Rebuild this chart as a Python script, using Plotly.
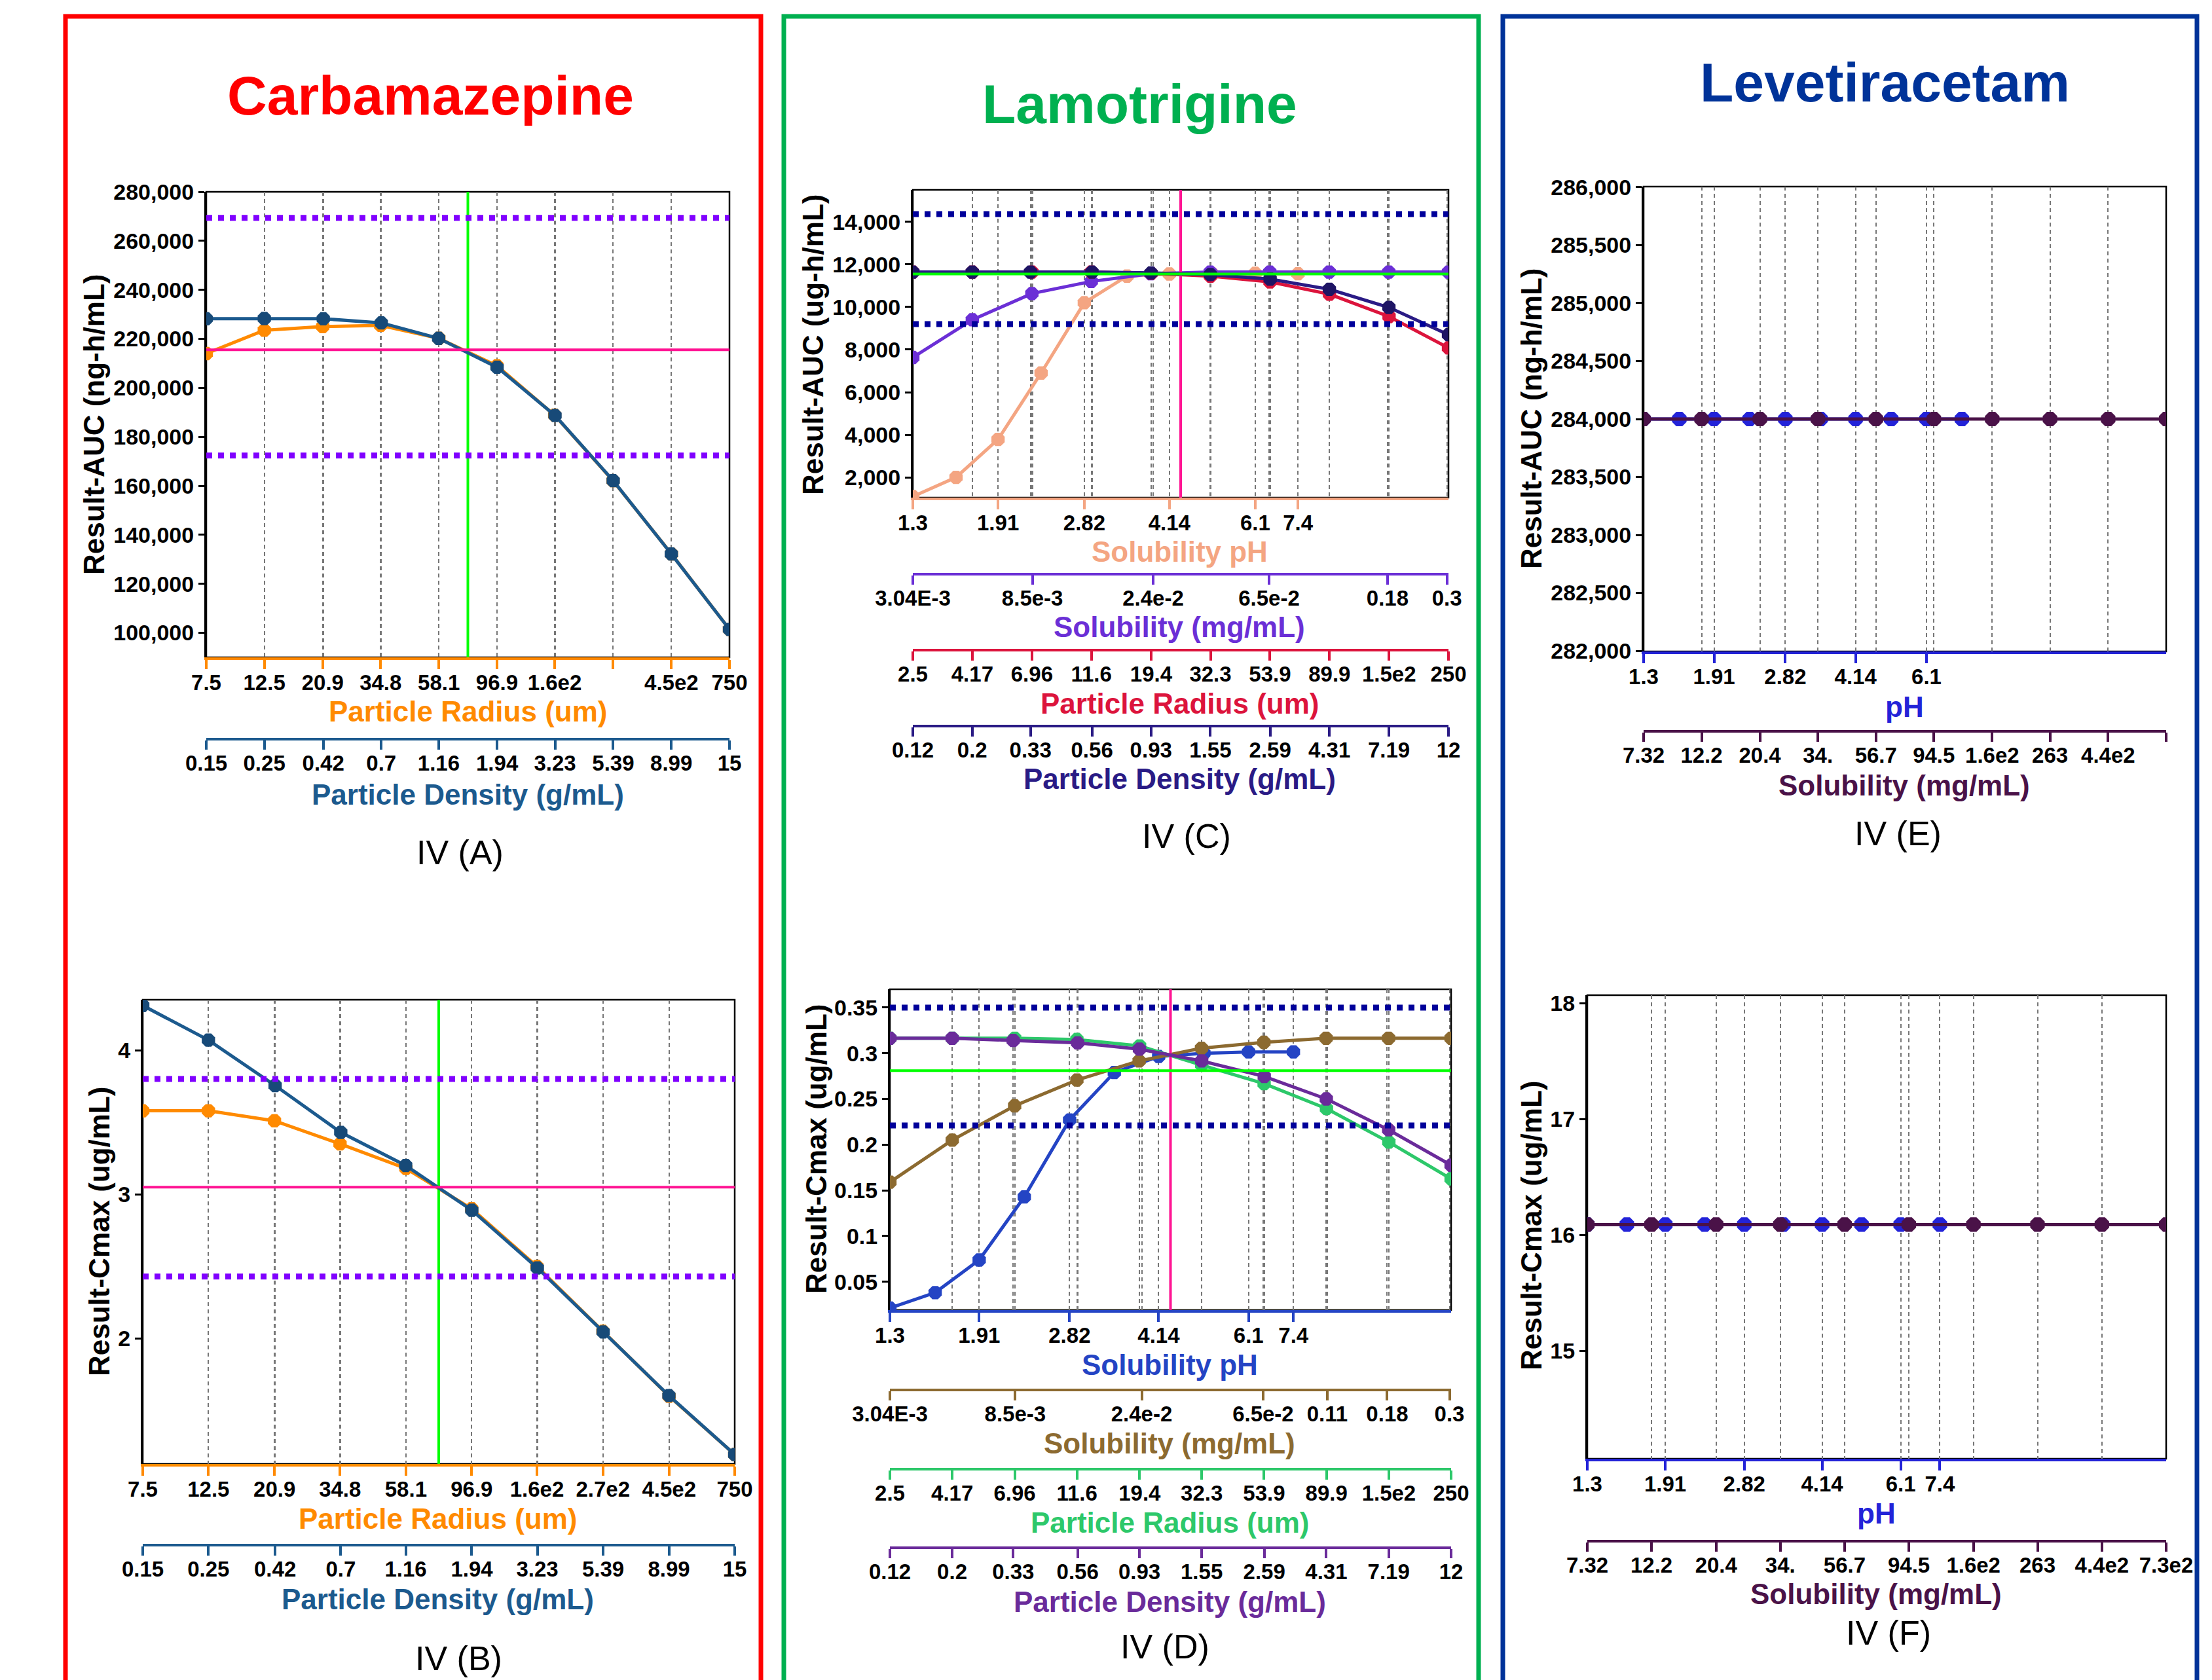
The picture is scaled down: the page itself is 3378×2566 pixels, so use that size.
import math
import plotly.graph_objects as go

W, H = 3378, 2566
FONT = "Liberation Sans, Arial, Helvetica, sans-serif"


def fx(x):
    return x / W


def fy(y):
    return 1 - y / H


# ---------------------------------------------------------------- DATA
# Carbamazepine, IV(A) AUC and IV(B) Cmax
cbz_radius = [7.5, 12.5, 20.9, 34.8, 58.1, 96.9, 161, 269, 450, 750]
cbz_density = [0.15, 0.25, 0.42, 0.7, 1.16, 1.94, 3.23, 5.39, 8.99, 15]
cbz_radius_labels_A = ["7.5", "12.5", "20.9", "34.8", "58.1", "96.9", "1.6e2", "", "4.5e2", "750"]
cbz_radius_labels_B = ["7.5", "12.5", "20.9", "34.8", "58.1", "96.9", "1.6e2", "2.7e2", "4.5e2", "750"]
cbz_density_labels = ["0.15", "0.25", "0.42", "0.7", "1.16", "1.94", "3.23", "5.39", "8.99", "15"]
cbz_base_radius = 75

A_auc_vs_radius = [214000, 223500, 225000, 225500, 220200, 209000, 188800, 162100, 132200, 101400]
A_auc_vs_density = [228200, 228300, 228200, 226500, 220200, 208400, 188700, 162100, 132200, 101400]
A_baseline = 215500
A_limits = [269400, 172400]

B_cmax_vs_radius = [3.58, 3.58, 3.51, 3.35, 3.18, 2.90, 2.50, 2.05, 1.60, 1.195]
B_cmax_vs_density = [4.31, 4.07, 3.755, 3.43, 3.20, 2.89, 2.49, 2.046, 1.604, 1.195]
B_baseline = 3.05
B_limits = [3.80, 2.43]

# Lamotrigine, IV(C) AUC and IV(D) Cmax
ltg_ph = [1.3, 1.58, 1.91, 2.32, 2.82, 3.42, 4.14, 5.03, 6.1, 7.4]
ltg_ph_ticks = [1.3, 1.91, 2.82, 4.14, 6.1, 7.4]
ltg_ph_labels = ["1.3", "1.91", "2.82", "4.14", "6.1", "7.4"]
ltg_sol = [3.04e-3, 5.07e-3, 8.46e-3, 1.41e-2, 2.35e-2, 3.92e-2, 6.54e-2, 0.109, 0.182, 0.304]
ltg_sol_ticks_C = [3.04e-3, 8.5e-3, 2.4e-2, 6.5e-2, 0.18, 0.3]
ltg_sol_labels_C = ["3.04E-3", "8.5e-3", "2.4e-2", "6.5e-2", "0.18", "0.3"]
ltg_sol_ticks_D = [3.04e-3, 8.5e-3, 2.4e-2, 6.5e-2, 0.11, 0.18, 0.3]
ltg_sol_labels_D = ["3.04E-3", "8.5e-3", "2.4e-2", "6.5e-2", "0.11", "0.18", "0.3"]
ltg_radius = [2.5, 4.17, 6.96, 11.6, 19.4, 32.3, 53.9, 89.9, 150, 250]
ltg_radius_labels = ["2.5", "4.17", "6.96", "11.6", "19.4", "32.3", "53.9", "89.9", "1.5e2", "250"]
ltg_density = [0.12, 0.2, 0.33, 0.56, 0.93, 1.55, 2.59, 4.31, 7.19, 12]
ltg_density_labels = ["0.12", "0.2", "0.33", "0.56", "0.93", "1.55", "2.59", "4.31", "7.19", "12"]
ltg_base_radius = 25

C_auc_vs_ph = [1100, 2000, 3780, 6900, 10200, 11450, 11550, 11550, 11580, 11560]
C_auc_vs_sol = [7630, 9400, 10630, 11200, 11560, 11640, 11640, 11640, 11640, 11640]
C_auc_vs_radius = [11640, 11640, 11640, 11640, 11580, 11450, 11180, 10600, 9550, 8080]
C_auc_vs_density = [11640, 11640, 11640, 11640, 11600, 11520, 11310, 10830, 9980, 8700]
C_baseline = 11550
C_limits = [14360, 9200]

D_cmax_vs_ph = [0.0212, 0.0381, 0.0738, 0.1428, 0.227, 0.279, 0.2965, 0.300, 0.3015, 0.3015]
D_cmax_vs_sol = [0.159, 0.205, 0.2425, 0.2707, 0.2916, 0.3055, 0.312, 0.3164, 0.3164, 0.3164]
D_cmax_vs_radius = [0.3164, 0.3164, 0.3164, 0.315, 0.308, 0.287, 0.2667, 0.2395, 0.2028, 0.1626]
D_cmax_vs_density = [0.3164, 0.3164, 0.314, 0.3114, 0.3045, 0.2916, 0.2747, 0.250, 0.2162, 0.1775]
D_baseline = 0.281
D_limits = [0.350, 0.221]
D_yticks = [0.05, 0.1, 0.15, 0.2, 0.25, 0.3, 0.35]
D_ylabels = ["0.05", "0.1", "0.15", "0.2", "0.25", "0.3", "0.35"]

# Levetiracetam, IV(E) AUC and IV(F) Cmax
lev_ph = [1.3, 1.58, 1.91, 2.32, 2.82, 3.42, 4.14, 5.03, 6.1, 7.4]
lev_ph_ticks_E = [1.3, 1.91, 2.82, 4.14, 6.1]
lev_ph_labels_E = ["1.3", "1.91", "2.82", "4.14", "6.1"]
lev_ph_ticks_F = [1.3, 1.91, 2.82, 4.14, 6.1, 7.4]
lev_ph_labels_F = ["1.3", "1.91", "2.82", "4.14", "6.1", "7.4"]
lev_sol = [7.32, 12.2, 20.4, 34.0, 56.7, 94.5, 158, 263, 439, 732]
lev_sol_labels_E = ["7.32", "12.2", "20.4", "34.", "56.7", "94.5", "1.6e2", "263", "4.4e2", ""]
lev_sol_labels_F = ["7.32", "12.2", "20.4", "34.", "56.7", "94.5", "1.6e2", "263", "4.4e2", "7.3e2"]

E_auc_vs_ph = [284000, 284000, 284000, 284000, 284000, 284000, 284000, 284000, 284000, 284000]
E_auc_vs_sol = [284000, 284000, 284000, 284000, 284000, 284000, 284000, 284000, 284000, 284000]
F_cmax_vs_ph = [16.09, 16.09, 16.09, 16.09, 16.09, 16.09, 16.09, 16.09, 16.09, 16.09]
F_cmax_vs_sol = [16.09, 16.09, 16.09, 16.09, 16.09, 16.09, 16.09, 16.09, 16.09, 16.09]

# ---------------------------------------------------------------- STYLE
C_ORANGE = "#FF8A00"
C_SEABLUE = "#1C5A8E"
C_SALMON = "#F4A582"
C_VIOLET = "#6B2FD6"
C_CRIMSON = "#DC143C"
C_NAVY = "#2A1B85"
C_PHBLUE = "#2444C4"
C_BROWN = "#8C6A30"
C_GREEN = "#2DC86A"
C_PURPLE = "#6A2B9A"
C_LEVBLUE = "#2323D8"
C_PLUM = "#4A1248"
C_DOTPURPLE = "#8000FF"
C_DOTNAVY = "#00009A"
C_PINK = "#FF1493"
C_LIME = "#00FF00"

TICKFONT = dict(family=FONT, size=34, color="black", weight="bold")
XTICKFONT = dict(family=FONT, size=33, color="black", weight="bold")

layout = dict(
    template="none",
    width=W, height=H, autosize=False, margin=dict(l=0, r=0, t=0, b=0, pad=0),
    paper_bgcolor="white", plot_bgcolor="rgba(0,0,0,0)",
    showlegend=False, shapes=[], annotations=[],
)
traces = []


def xid(n):
    return "x" if n == 1 else f"x{n}"


def yid(n):
    return "y" if n == 1 else f"y{n}"


def add_panel(yn, box, yrange, yaxis_extra, xaxes):
    """box = (left, top, right, bottom) in px; xaxes list of dicts."""
    l, t, r, b = box
    prim = xaxes[0]["n"]
    ykey = "yaxis" if yn == 1 else f"yaxis{yn}"
    ya = dict(domain=[fy(b), fy(t)], anchor=xid(prim), range=yrange, automargin=False,
              showline=True, linecolor="black", linewidth=3,
              ticks="outside", ticklen=9, tickwidth=3, tickcolor="black",
              tickfont=TICKFONT, showgrid=False, zeroline=False)
    ya.update(yaxis_extra)
    layout[ykey] = ya
    for ax in xaxes:
        n = ax["n"]
        d = dict(type="log", range=[math.log10(ax["lo"]), math.log10(ax["hi"])],
                 domain=[fx(l), fx(r)], automargin=False,
                 showline=True, linecolor=ax["color"], linewidth=4,
                 ticks="outside", ticklen=14, tickwidth=4, tickcolor=ax["color"],
                 tickmode="array", tickvals=ax["tickvals"], ticktext=ax["ticktext"],
                 tickfont=XTICKFONT, ticklabelstandoff=-8,
                 showgrid=True, gridcolor="#777777", gridwidth=2,
                 griddash="6px,5px", zeroline=False)
        if n == prim:
            d["anchor"] = yid(yn)
        else:
            d["anchor"] = "free"
            d["overlaying"] = xid(prim)
            d["position"] = fy(ax["line_y"])
        layout["xaxis" if n == 1 else f"xaxis{n}"] = d
    # plot frame
    layout["shapes"].append(dict(type="rect", xref="paper", yref="paper", layer="below",
                                 x0=fx(l), x1=fx(r), y0=fy(b), y1=fy(t),
                                 line=dict(color="black", width=2.5)))


def series(xn, yn, xs, ys, color, msize=22, mcolor=None):
    traces.append(go.Scatter(x=xs, y=ys, xaxis=xid(xn), yaxis=yid(yn), mode="lines+markers",
                             line=dict(color=color, width=5),
                             marker=dict(color=mcolor or color, size=msize, symbol="octagon")))


def hline(xn, yn, val, color, width, dash="solid"):
    layout["shapes"].append(dict(type="line", xref=f"{xid(xn)} domain", yref=yid(yn), layer="above",
                                 x0=0, x1=1, y0=val, y1=val,
                                 line=dict(color=color, width=width, dash=dash)))


def vline(xn, yn, val, yrange, color, width):
    traces.append(go.Scatter(x=[val, val], y=yrange, xaxis=xid(xn), yaxis=yid(yn), mode="lines",
                             line=dict(color=color, width=width), hoverinfo="skip"))


def text(s, x, y, size, color="black", bold=True, angle=0):
    layout["annotations"].append(dict(text=s, x=fx(x), y=fy(y), xref="paper", yref="paper",
                                      xanchor="center", yanchor="middle", showarrow=False,
                                      textangle=angle,
                                      font=dict(family=FONT, size=size, color=color,
                                                weight="bold" if bold else "normal")))


# ---------------------------------------------------------------- PANEL A
A_yr = [90000, 280000]
add_panel(1, (315, 293, 1114, 1004), A_yr, dict(dtick=20000, tick0=0, tickformat=",d"), [
    dict(n=1, lo=7.5, hi=750, tickvals=cbz_radius, ticktext=cbz_radius_labels_A, color=C_ORANGE),
    dict(n=2, lo=0.15, hi=15, tickvals=cbz_density, ticktext=cbz_density_labels, color=C_SEABLUE, line_y=1129),
])
series(1, 1, cbz_radius, A_auc_vs_radius, C_ORANGE)
series(2, 1, cbz_density, A_auc_vs_density, C_SEABLUE, mcolor="#174A78")
hline(1, 1, A_baseline, C_PINK, 4)
for v in A_limits:
    hline(1, 1, v, C_DOTPURPLE, 9, "dot")

# ---------------------------------------------------------------- PANEL B
B_yr = [1.13, 4.35]
add_panel(2, (218, 1527, 1122, 2236), B_yr, dict(dtick=1, tick0=0), [
    dict(n=3, lo=7.5, hi=750, tickvals=cbz_radius, ticktext=cbz_radius_labels_B, color=C_ORANGE),
    dict(n=4, lo=0.15, hi=15, tickvals=cbz_density, ticktext=cbz_density_labels, color=C_SEABLUE, line_y=2360),
])
series(3, 2, cbz_radius, B_cmax_vs_radius, C_ORANGE)
series(4, 2, cbz_density, B_cmax_vs_density, C_SEABLUE, mcolor="#174A78")
hline(3, 2, B_baseline, C_PINK, 4)
for v in B_limits:
    hline(3, 2, v, C_DOTPURPLE, 9, "dot")

# ---------------------------------------------------------------- PANEL C
C_yr = [1050, 15500]
add_panel(3, (1394, 290, 2212, 760), C_yr, dict(dtick=2000, tick0=0, tickformat=",d"), [
    dict(n=5, lo=1.3, hi=14.6, tickvals=ltg_ph_ticks, ticktext=ltg_ph_labels, color=C_SALMON),
    dict(n=6, lo=3.04e-3, hi=0.304, tickvals=ltg_sol_ticks_C, ticktext=ltg_sol_labels_C, color=C_VIOLET, line_y=877),
    dict(n=7, lo=2.5, hi=250, tickvals=ltg_radius, ticktext=ltg_radius_labels, color=C_CRIMSON, line_y=993),
    dict(n=8, lo=0.12, hi=12, tickvals=ltg_density, ticktext=ltg_density_labels, color=C_NAVY, line_y=1109),
])
series(5, 3, ltg_ph, C_auc_vs_ph, C_SALMON)
series(6, 3, ltg_sol, C_auc_vs_sol, C_VIOLET)
series(7, 3, ltg_radius, C_auc_vs_radius, C_CRIMSON)
series(8, 3, ltg_density, C_auc_vs_density, C_NAVY, mcolor="#1E1464")
hline(5, 3, C_baseline, C_LIME, 4)
for v in C_limits:
    hline(5, 3, v, C_DOTNAVY, 9, "dot")

# ---------------------------------------------------------------- PANEL D
D_yr = [0.019, 0.37]
add_panel(4, (1359, 1511, 2216, 2001), D_yr, dict(tickmode="array", tickvals=D_yticks, ticktext=D_ylabels), [
    dict(n=9, lo=1.3, hi=14.6, tickvals=ltg_ph_ticks, ticktext=ltg_ph_labels, color=C_PHBLUE),
    dict(n=10, lo=3.04e-3, hi=0.304, tickvals=ltg_sol_ticks_D, ticktext=ltg_sol_labels_D, color=C_BROWN, line_y=2123),
    dict(n=11, lo=2.5, hi=250, tickvals=ltg_radius, ticktext=ltg_radius_labels, color=C_GREEN, line_y=2244),
    dict(n=12, lo=0.12, hi=12, tickvals=ltg_density, ticktext=ltg_density_labels, color=C_PURPLE, line_y=2364),
])
series(9, 4, ltg_ph, D_cmax_vs_ph, C_PHBLUE)
series(10, 4, ltg_sol, D_cmax_vs_sol, C_BROWN)
series(11, 4, ltg_radius, D_cmax_vs_radius, C_GREEN)
series(12, 4, ltg_density, D_cmax_vs_density, C_PURPLE)
hline(9, 4, D_baseline, C_LIME, 4)
for v in D_limits:
    hline(9, 4, v, C_DOTNAVY, 9, "dot")

# ---------------------------------------------------------------- PANEL E
E_yr = [281995, 286005]
add_panel(5, (2510, 285, 3308, 995), E_yr, dict(dtick=500, tick0=0, tickformat=",d"), [
    dict(n=13, lo=1.3, hi=22.6, tickvals=lev_ph_ticks_E, ticktext=lev_ph_labels_E, color=C_LEVBLUE),
    dict(n=14, lo=7.32, hi=732, tickvals=lev_sol, ticktext=lev_sol_labels_E, color=C_PLUM, line_y=1117),
])
series(13, 5, lev_ph, E_auc_vs_ph, C_LEVBLUE, msize=24)
series(14, 5, lev_sol, E_auc_vs_sol, C_PLUM, msize=24)

# ---------------------------------------------------------------- PANEL F
F_yr = [14.07, 18.07]
add_panel(6, (2424, 1520, 3308, 2228), F_yr, dict(dtick=1, tick0=0), [
    dict(n=15, lo=1.3, hi=22.6, tickvals=lev_ph_ticks_F, ticktext=lev_ph_labels_F, color=C_LEVBLUE),
    dict(n=16, lo=7.32, hi=732, tickvals=lev_sol, ticktext=lev_sol_labels_F, color=C_PLUM, line_y=2354),
])
series(15, 6, lev_ph, F_cmax_vs_ph, C_LEVBLUE, msize=24)
series(16, 6, lev_sol, F_cmax_vs_sol, C_PLUM, msize=24)

# reference (baseline) vertical lines, drawn on top of the curves
vline(1, 1, cbz_base_radius, A_yr, C_LIME, 4)
vline(3, 2, cbz_base_radius, B_yr, C_LIME, 4)
vline(7, 3, ltg_base_radius, C_yr, C_PINK, 4)
vline(11, 4, ltg_base_radius, D_yr, C_PINK, 4)

# ---------------------------------------------------------------- BOXES & TEXT
for (x0, x1, col) in [(100, 1162, "#FF0000"), (1197, 2258, "#00B050"), (2295, 3355, "#003399")]:
    layout["shapes"].append(dict(type="rect", xref="paper", yref="paper", layer="above",
                                 x0=fx(x0), x1=fx(x1), y0=fy(25), y1=fy(2640),
                                 line=dict(color=col, width=7)))

text("Carbamazepine", 657, 146, 84, "#FF0000")
text("Lamotrigine", 1740, 159, 84, "#00B050")
text("Levetiracetam", 2878, 126, 84, "#003399")

# y titles
text("Result-AUC (ng-h/mL)", 144, 648, 44, angle=-90)
text("Result-Cmax (ug/mL)", 151, 1881, 44, angle=-90)
text("Result-AUC (ug-h/mL)", 1242, 526, 44, angle=-90)
text("Result-Cmax (ug/mL)", 1246, 1755, 44, angle=-90)
text("Result-AUC (ng-h/mL)", 2338, 639, 44, angle=-90)
text("Result-Cmax (ug/mL)", 2338, 1872, 44, angle=-90)

# x titles
text("Particle Radius (um)", 714, 1086, 44, C_ORANGE)
text("Particle Density (g/mL)", 714, 1213, 44, C_SEABLUE)
text("Particle Radius (um)", 668, 2319, 44, C_ORANGE)
text("Particle Density (g/mL)", 668, 2442, 44, C_SEABLUE)

text("Solubility pH", 1801, 843, 44, C_SALMON)
text("Solubility (mg/mL)", 1801, 958, 44, C_VIOLET)
text("Particle Radius (um)", 1801, 1074, 44, C_CRIMSON)
text("Particle Density (g/mL)", 1801, 1189, 44, C_NAVY)

text("Solubility pH", 1786, 2084, 44, C_PHBLUE)
text("Solubility (mg/mL)", 1786, 2204, 44, C_BROWN)
text("Particle Radius (um)", 1786, 2325, 44, C_GREEN)
text("Particle Density (g/mL)", 1786, 2446, 44, C_PURPLE)

text("pH", 2908, 1079, 44, C_LEVBLUE)
text("Solubility (mg/mL)", 2908, 1200, 44, C_PLUM)
text("pH", 2865, 2311, 44, C_LEVBLUE)
text("Solubility (mg/mL)", 2865, 2434, 44, C_PLUM)

# panel labels
text("IV (A)", 702, 1302, 52, bold=False)
text("IV (B)", 700, 2533, 52, bold=False)
text("IV (C)", 1812, 1277, 52, bold=False)
text("IV (D)", 1779, 2515, 52, bold=False)
text("IV (E)", 2898, 1273, 52, bold=False)
text("IV (F)", 2884, 2494, 52, bold=False)

fig = go.Figure(data=traces, layout=layout)
fig.write_html("out.html")
